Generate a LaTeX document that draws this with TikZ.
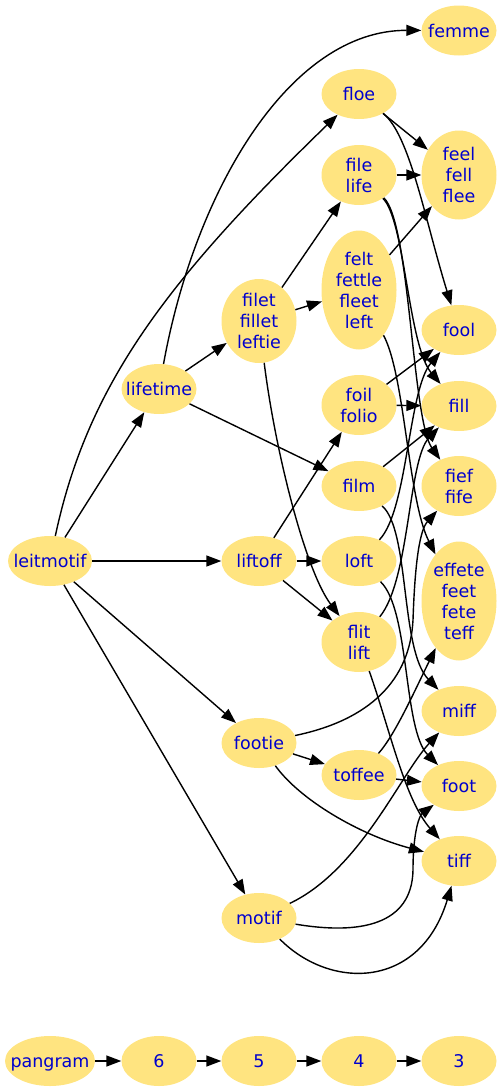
\documentclass[tikz,border=0pt]{standalone}
\usepackage{fontspec}
\setmainfont{DejaVu Sans}
\usetikzlibrary{shapes.geometric,arrows.meta}
\definecolor{nodefill}{RGB}{255,228,128}
\definecolor{textblue}{RGB}{0,0,205}
\tikzset{
  ell/.style={ellipse, fill=nodefill, draw=none, inner sep=0pt, minimum width=75pt, minimum height=50pt},
  txt/.style={text=textblue, inner sep=0pt, align=center, font=\fontsize{17.5}{21}\selectfont},
  e/.style={draw=black, line width=1.4pt, -{Triangle[length=15pt,width=11pt]}}
}
\begin{document}
\begin{tikzpicture}[x=1pt,y=-1pt]
\useasboundingbox (0,0) rectangle (503,1092);
% nodes
\node[ell] (femme) at (459,30.5) {};
\node[ell] (floe) at (359,94) {};
\node[ell, minimum height=89pt] (feel) at (459,175) {};
\node[ell, minimum height=60pt] (file) at (359,175) {};
\node[ell, minimum height=119pt] (felt) at (359,290) {};
\node[ell, minimum height=84pt] (filet) at (259,321) {};
\node[ell] (fool) at (459,330) {};
\node[ell] (lifetime) at (159,389) {};
\node[ell, minimum height=60pt] (foil) at (359,405) {};
\node[ell] (fill) at (459,406) {};
\node[ell] (film) at (359,486) {};
\node[ell, minimum height=60pt] (fief) at (459,486) {};
\node[ell, minimum width=84pt] (leitmotif) at (50,561) {};
\node[ell] (liftoff) at (259,561) {};
\node[ell] (loft) at (359,561) {};
\node[ell, minimum height=119pt] (effete) at (459,601) {};
\node[ell, minimum height=60pt] (flit) at (359,642) {};
\node[ell] (miff) at (459,711) {};
\node[ell] (footie) at (259,743) {};
\node[ell] (toffee) at (359,775) {};
\node[ell] (foot) at (459,786) {};
\node[ell] (tiff) at (459,861) {};
\node[ell] (motif) at (259,918) {};
\node[ell, minimum width=90pt] (pangram) at (50,1061) {};
\node[ell] (r6) at (159,1061) {};
\node[ell] (r5) at (259,1061) {};
\node[ell] (r4) at (359,1061) {};
\node[ell] (r3) at (459,1061) {};
% labels
\node[txt] (femme-t) at (femme) {femme};
\node[txt] (floe-t) at (floe) {floe};
\node[txt] (feel-t) at (feel) {feel\\fell\\flee};
\node[txt] (file-t) at (file) {file\\life};
\node[txt] (felt-t) at (felt) {felt\\fettle\\fleet\\left};
\node[txt] (filet-t) at (filet) {filet\\fillet\\leftie};
\node[txt] (fool-t) at (fool) {fool};
\node[txt] (lifetime-t) at (lifetime) {lifetime};
\node[txt] (foil-t) at (foil) {foil\\folio};
\node[txt] (fill-t) at (fill) {fill};
\node[txt] (film-t) at (film) {film};
\node[txt] (fief-t) at (fief) {fief\\fife};
\node[txt] (leitmotif-t) at (leitmotif) {leitmotif};
\node[txt] (liftoff-t) at (liftoff) {liftoff};
\node[txt] (loft-t) at (loft) {loft};
\node[txt] (effete-t) at (effete) {effete\\feet\\fete\\teff};
\node[txt] (flit-t) at (flit) {flit\\lift};
\node[txt] (miff-t) at (miff) {miff};
\node[txt] (footie-t) at (footie) {footie};
\node[txt] (toffee-t) at (toffee) {toffee};
\node[txt] (foot-t) at (foot) {foot};
\node[txt] (tiff-t) at (tiff) {tiff};
\node[txt] (motif-t) at (motif) {motif};
\node[txt, text height=12.5pt, text depth=0pt] (pangram-t) at (pangram) {pangram};
\node[txt] (r6-t) at (r6) {6};
\node[txt] (r5-t) at (r5) {5};
\node[txt] (r4-t) at (r4) {4};
\node[txt] (r3-t) at (r3) {3};
% edges from leitmotif
\draw[e] (leitmotif) -- (lifetime);
\draw[e] (leitmotif) .. controls (87,387) and (164,283) .. (floe);
\draw[e] (leitmotif) -- (liftoff);
\draw[e] (leitmotif) -- (footie);
\draw[e] (leitmotif) -- (motif);
% lifetime
\draw[e] (lifetime) .. controls (195,190) and (290,30) .. (femme);
\draw[e] (lifetime) -- (filet);
\draw[e] (lifetime) -- (film);
% filet
\draw[e] (filet) -- (file);
\draw[e] (filet) -- (felt);
\draw[e] (filet) .. controls (275,450) and (305,570) .. (flit);
% liftoff
\draw[e] (liftoff) -- (foil);
\draw[e] (liftoff) -- (loft);
\draw[e] (liftoff) -- (flit);
% footie
\draw[e] (footie) -- (toffee);
\draw[e] (footie) .. controls (370,720) and (410,680) .. (413,620) .. controls (415,560) and (420,530) .. (fief);
\draw[e] (footie) .. controls (300,800) and (360,835) .. (tiff);
% motif
\draw[e] (motif) .. controls (360,870) and (400,775) .. (miff);
\draw[e] (motif) .. controls (360,935) and (412,925) .. (413,870) .. controls (413,830) and (420,815) .. (foot);
\draw[e] (motif) .. controls (330,990) and (420,990) .. (tiff);
% rank 4
\draw[e] (floe) -- (feel);
\draw[e] (floe) .. controls (410,135) and (425,220) .. (fool);
\draw[e] (file) -- (feel);
\draw[e] (file) .. controls (405,220) and (408,345) .. (fill);
\draw[e] (file) .. controls (410,222) and (412,420) .. (fief);
\draw[e] (felt) -- (feel);
\draw[e] (felt) .. controls (405,375) and (408,500) .. (effete);
\draw[e] (foil) -- (fool);
\draw[e] (foil) -- (fill);
\draw[e] (film) -- (fill);
\draw[e] (film) .. controls (410,530) and (400,650) .. (miff);
\draw[e] (loft) .. controls (408,510) and (408,390) .. (fool);
\draw[e] (loft) .. controls (410,610) and (403,730) .. (foot);
\draw[e] (flit) .. controls (410,580) and (408,460) .. (fill);
\draw[e] (flit) .. controls (390,730) and (405,800) .. (tiff);
\draw[e] (toffee) .. controls (395,735) and (415,690) .. (effete);
\draw[e] (toffee) -- (foot);
% rank row
\draw[e] (pangram) -- (r6);
\draw[e] (r6) -- (r5);
\draw[e] (r5) -- (r4);
\draw[e] (r4) -- (r3);
\end{tikzpicture}
\end{document}
